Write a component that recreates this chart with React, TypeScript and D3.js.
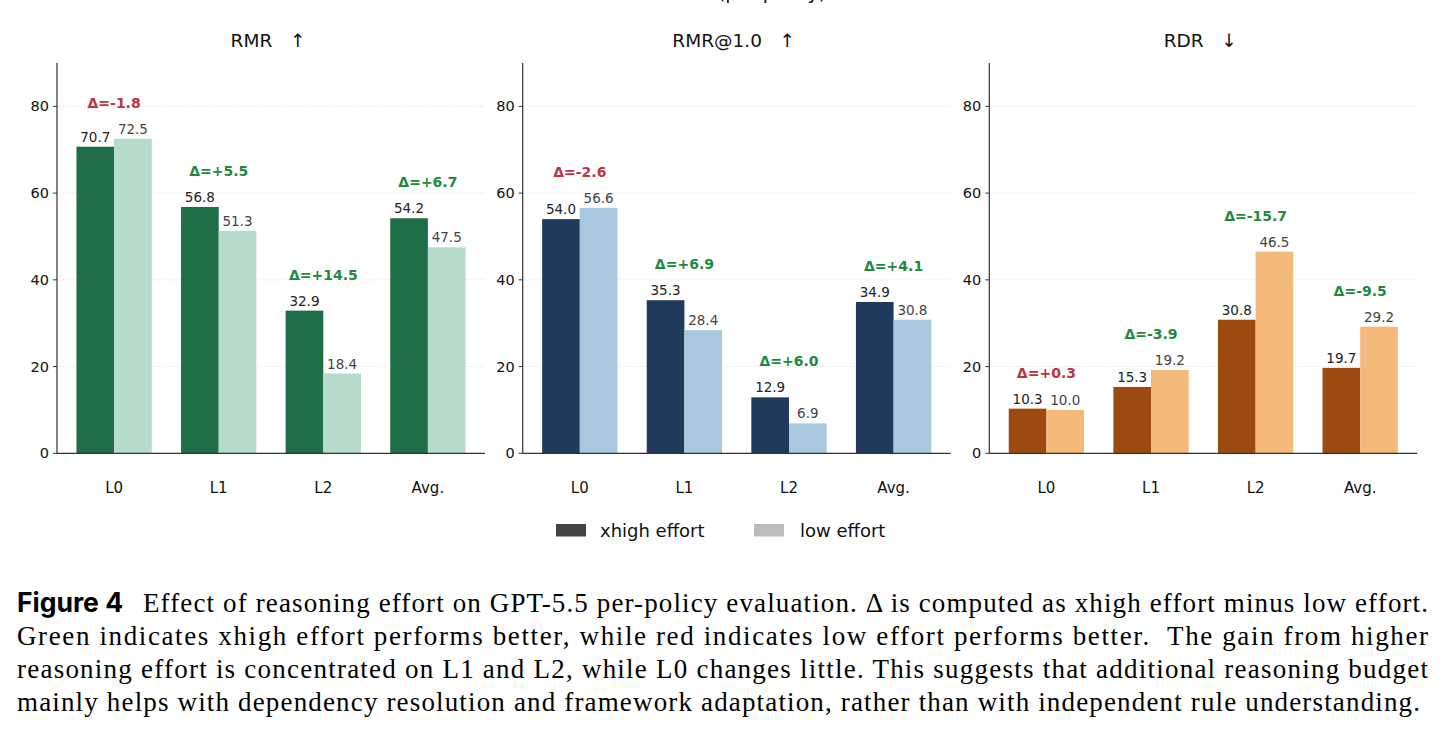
import * as d3 from 'd3';

const categories = ['L0', 'L1', 'L2', 'Avg.'];

const rmrXhigh = [70.7, 56.8, 32.9, 54.2];
const rmrLow = [72.5, 51.3, 18.4, 47.5];
const rmr10Xhigh = [54.0, 35.3, 12.9, 34.9];
const rmr10Low = [56.6, 28.4, 6.9, 30.8];
const rdrXhigh = [10.3, 15.3, 30.8, 19.7];
const rdrLow = [10.0, 19.2, 46.5, 29.2];

const yTicks = [0, 20, 40, 60, 80];
const seriesNames = ['xhigh effort', 'low effort'];

const captionLines = [
  'Effect of reasoning effort on GPT-5.5 per-policy evaluation. \u0394 is computed as xhigh effort minus low effort.',
  'Green indicates xhigh effort performs better, while red indicates low effort performs better.  The gain from higher',
  'reasoning effort is concentrated on L1 and L2, while L0 changes little. This suggests that additional reasoning budget',
  'mainly helps with dependency resolution and framework adaptation, rather than with independent rule understanding.',
];

type Panel = { title: string; higher: boolean; xhigh: number[]; low: number[]; dark: string; light: string; x0: number };

const panels: Panel[] = [
  { title: 'RMR   \u2191', higher: true, xhigh: rmrXhigh, low: rmrLow, dark: '#1f6e47', light: '#b5dbca', x0: 57 },
  { title: 'RMR@1.0   \u2191', higher: true, xhigh: rmr10Xhigh, low: rmr10Low, dark: '#1f3a5a', light: '#a7c8de', x0: 522.7 },
  { title: 'RDR   \u2193', higher: false, xhigh: rdrXhigh, low: rdrLow, dark: '#9c4a10', light: '#f5b97a', x0: 989.3 },
];

const PANEL_W = 428;
const TOP = 63;
const BASE = 453.3;
const BW = 0.36;
const GOOD = '#1d8a3c';
const BAD = '#c1323f';
const FONT = 'DejaVu Sans, sans-serif';

function BarPanel({ p }: { p: Panel }) {
  const x = d3.scaleLinear().domain([-0.546, 3.546]).range([p.x0, p.x0 + PANEL_W]);
  const y = d3.scaleLinear().domain([0, 90]).range([BASE, TOP]);
  return (
    <g fontFamily={FONT}>
      {yTicks.filter((t) => t > 0).map((t) => (
        <line key={t} x1={p.x0} x2={p.x0 + PANEL_W} y1={y(t)} y2={y(t)} stroke="#d9d9d9" strokeWidth={0.9} strokeDasharray="1,2" />
      ))}
      {categories.map((c, i) => {
        const d = +(p.xhigh[i] - p.low[i]).toFixed(1);
        const good = p.higher ? d > 0 : d < 0;
        const top = y(Math.max(p.xhigh[i], p.low[i]));
        return (
          <g key={c}>
            <rect x={x(i - BW)} width={x(BW) - x(0)} y={y(p.xhigh[i])} height={BASE - y(p.xhigh[i])} fill={p.dark} />
            <rect x={x(i)} width={x(BW) - x(0)} y={y(p.low[i])} height={BASE - y(p.low[i])} fill={p.light} />
            <text x={x(i - BW / 2)} y={y(p.xhigh[i]) - 5} textAnchor="middle" fontSize={13.5} fill="#222">{p.xhigh[i].toFixed(1)}</text>
            <text x={x(i + BW / 2)} y={y(p.low[i]) - 5} textAnchor="middle" fontSize={13.5} fill="#444">{p.low[i].toFixed(1)}</text>
            <text x={x(i)} y={top - 31} textAnchor="middle" fontSize={14} fontWeight="bold" fill={good ? GOOD : BAD}>
              {'\u0394=' + (d > 0 ? '+' : '') + d.toFixed(1)}
            </text>
            <text x={x(i)} y={493} textAnchor="middle" fontSize={15} fill="#111">{c}</text>
          </g>
        );
      })}
      <line x1={p.x0} x2={p.x0} y1={TOP} y2={BASE} stroke="#333" strokeWidth={1.2} />
      <line x1={p.x0} x2={p.x0 + PANEL_W} y1={BASE} y2={BASE} stroke="#333" strokeWidth={1.2} />
      {yTicks.map((t) => (
        <g key={t}>
          <line x1={p.x0 - 4} x2={p.x0} y1={y(t)} y2={y(t)} stroke="#333" strokeWidth={1} />
          <text x={p.x0 - 8} y={y(t) + 5} textAnchor="end" fontSize={14.5} fill="#111">{t}</text>
        </g>
      ))}
      <text x={p.x0 + PANEL_W / 2 - 3} y={47} textAnchor="middle" fontSize={18.5} fill="#111" style={{ whiteSpace: 'pre' }}>{p.title}</text>
    </g>
  );
}

export default function App() {
  return (
    <>
      <style>{'body{margin:0;background:#fff}'}</style>
      <svg width={1443} height={732} style={{ display: 'block' }}>
        <rect width={1443} height={732} fill="#fff" />
        {/* suptitle, cropped at the top edge in the original figure */}
        <text x={772} y={-1} textAnchor="middle" fontSize={19} fontFamily={FONT} fill="#111">(per policy)</text>
        {panels.map((p) => <BarPanel key={p.title} p={p} />)}
        <g fontFamily={FONT} fontSize={18} fill="#111">
          <rect x={556} y={524} width={30} height={12.5} fill="#444" />
          <text x={600} y={537}>{seriesNames[0]}</text>
          <rect x={754} y={524} width={30} height={12.5} fill="#bbb" />
          <text x={800} y={537}>{seriesNames[1]}</text>
        </g>
        <text x={17} y={612} fontFamily="Inter, sans-serif" fontWeight="bold" fontSize={26.5} fill="#000">Figure 4</text>
        {captionLines.map((l, i) => {
          const x0 = i === 0 ? 143 : 17;
          const x1 = i === 3 ? 1420 : 1428;
          return (
            <text key={i} x={x0} y={612 + i * 33} fontFamily="Liberation Serif, serif" fontSize={27} fill="#000"
              textLength={x1 - x0} lengthAdjust="spacing" style={{ whiteSpace: 'pre' }}>{l}</text>
          );
        })}
      </svg>
    </>
  );
}
